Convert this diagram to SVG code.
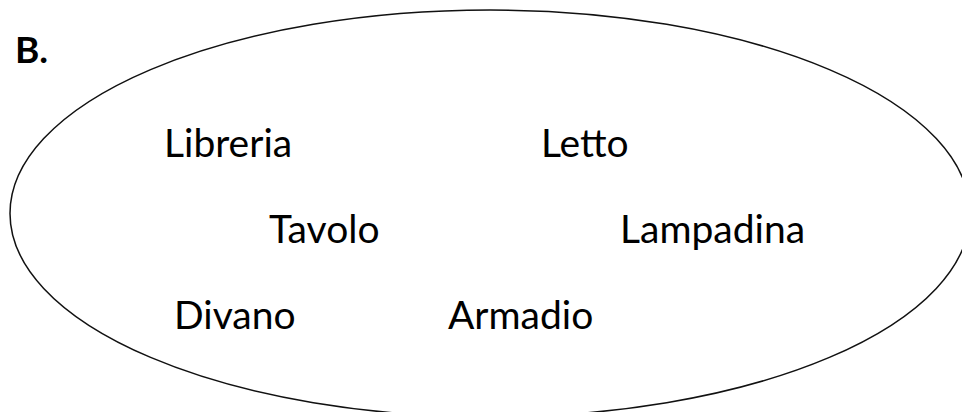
<svg xmlns="http://www.w3.org/2000/svg" width="962" height="412" viewBox="0 0 962 412">
<style>
.lbl{font-family:Lato,"Open Sans","Liberation Sans",sans-serif;font-size:39px;fill:#000}
.ttl{font-family:Lato,"Open Sans","Liberation Sans",sans-serif;font-size:37px;font-weight:bold;fill:#000}
.shape{fill:none;stroke:#111;stroke-width:1.5}
</style>
<rect width="962" height="412" fill="#fff"/>
<text class="ttl" x="15" y="63">B.</text>
<g id="set">
<ellipse class="shape" cx="490" cy="213.5" rx="480" ry="203.5"/>
</g>
<g id="connectors"/>
<g id="libreria"><text class="lbl" x="164" y="157">Libreria</text></g>
<g id="letto"><text class="lbl" x="541" y="157">Letto</text></g>
<g id="tavolo"><text class="lbl" x="269" y="243">Tavolo</text></g>
<g id="lampadina"><text class="lbl" x="620" y="243">Lampadina</text></g>
<g id="divano"><text class="lbl" x="174" y="329">Divano</text></g>
<g id="armadio"><text class="lbl" x="448" y="329">Armadio</text></g>
</svg>
